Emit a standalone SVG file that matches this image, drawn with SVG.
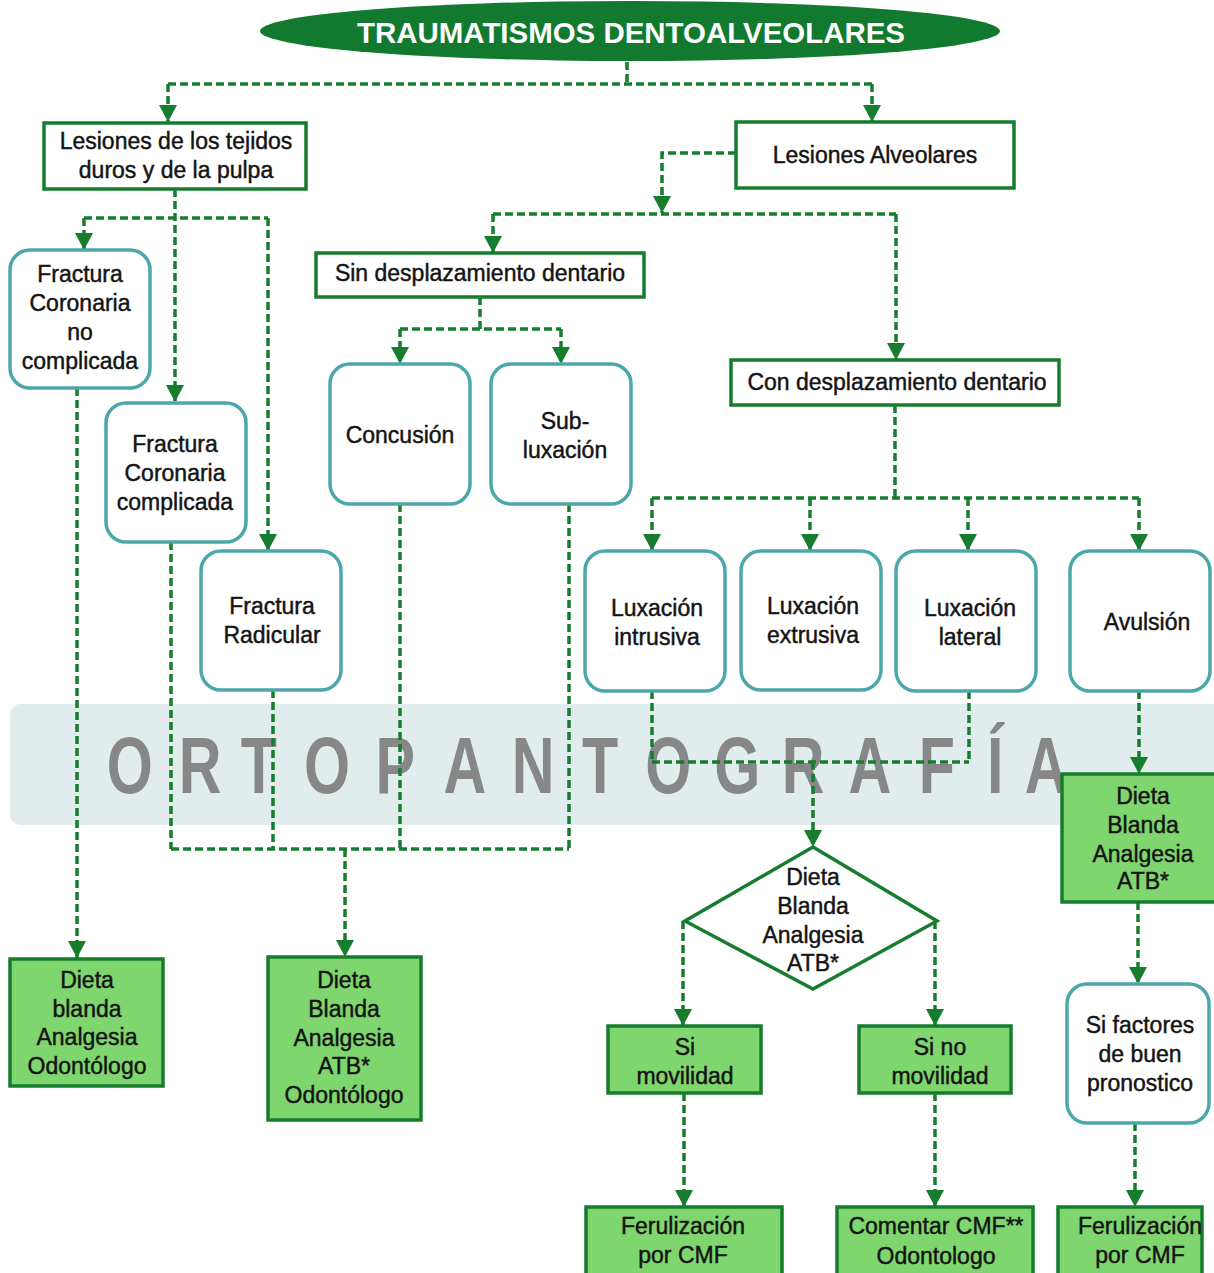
<svg xmlns="http://www.w3.org/2000/svg" width="1214" height="1273" viewBox="0 0 1214 1273">
<defs>
<marker id="ah" markerUnits="userSpaceOnUse" markerWidth="18" markerHeight="18" refX="17" refY="9" orient="auto">
<path d="M0,0 L17,9 L0,18 z" fill="#167c2e"/>
</marker>
<style>
.t{font-family:"Liberation Sans",Arial,sans-serif;font-size:23px;fill:#141414;stroke:#141414;stroke-width:0.45;text-anchor:middle}
.box{fill:#fff;stroke:#167c2e;stroke-width:3.5}
.gbox{fill:#80d66e;stroke:#167c2e;stroke-width:3.5}
.rbox{fill:#fff;stroke:#4ca7ab;stroke-width:3.5}
.c{fill:none;stroke:#167c2e;stroke-width:3.5;stroke-dasharray:8 4}
.a{marker-end:url(#ah)}
</style>
</defs>
<rect width="1214" height="1273" fill="#fff"/>
<g id="watermark">
<rect x="10" y="704" width="1220" height="121" rx="10" fill="#e1eded"/>
<g transform="scale(0.75 1)">
<text font-family="'Liberation Sans',Arial,sans-serif" font-weight="bold" font-size="79" fill="#878787" text-anchor="middle" x="173 267 345 436 527 620 711 800 891 983 1071 1160 1249 1327 1395" y="793">ORTOPANTOGRAFÍA</text>
</g>
</g>
<g id="connectors">
<path class="c" d="M627,62 V84"/>
<path class="c" d="M168,84 H872"/>
<path class="c a" d="M168,84 V122"/>
<path class="c a" d="M872,84 V122"/>
<path class="c a" d="M175,189 V402"/>
<path class="c" d="M84,218 H268"/>
<path class="c a" d="M84,218 V250"/>
<path class="c a" d="M268,218 V551"/>
<path class="c a" d="M736,153 H662 V213"/>
<path class="c" d="M493,214 H896"/>
<path class="c a" d="M493,214 V253"/>
<path class="c a" d="M896,214 V360"/>
<path class="c" d="M480,297 V329"/>
<path class="c" d="M400,329 H561"/>
<path class="c a" d="M400,329 V364"/>
<path class="c a" d="M561,329 V364"/>
<path class="c" d="M895,405 V498"/>
<path class="c" d="M652,498 H1139"/>
<path class="c a" d="M652,498 V551"/>
<path class="c a" d="M810,498 V551"/>
<path class="c a" d="M968,498 V551"/>
<path class="c a" d="M1139,498 V551"/>
<path class="c a" d="M77,388 V958"/>
<path class="c" d="M171,542 V849"/>
<path class="c" d="M171,849 H569"/>
<path class="c" d="M569,504 V849"/>
<path class="c" d="M273,690 V849"/>
<path class="c" d="M400,504 V849"/>
<path class="c a" d="M345,849 V957"/>
<path class="c" d="M652,691 V762"/>
<path class="c" d="M652,762 H969"/>
<path class="c" d="M969,691 V762"/>
<path class="c a" d="M813,762 V847"/>
<path class="c a" d="M1139,691 V774"/>
<path class="c a" d="M683,921 V1026"/>
<path class="c a" d="M935,921 V1026"/>
<path class="c a" d="M684,1093 V1207"/>
<path class="c a" d="M935,1093 V1207"/>
<path class="c a" d="M1138,902 V984"/>
<path class="c a" d="M1135,1123 V1207"/>
</g>
<g id="title">
<ellipse cx="630" cy="31" rx="370" ry="30" fill="#117a2f"/>
<text x="631" y="43" font-family="'Liberation Sans',Arial,sans-serif" font-weight="bold" font-size="30" fill="#fff" text-anchor="middle" textLength="548" lengthAdjust="spacingAndGlyphs">TRAUMATISMOS DENTOALVEOLARES</text>
</g>
<g id="n-tejidos">
<rect class="box" x="44" y="123" width="262" height="66"/>
<text class="t" x="176" y="149">Lesiones de los tejidos</text>
<text class="t" x="176" y="178">duros y de la pulpa</text>
</g>
<g id="n-alveolares">
<rect class="box" x="736" y="122" width="278" height="66"/>
<text class="t" x="875" y="163">Lesiones Alveolares</text>
</g>
<g id="n-sin">
<rect class="box" x="316" y="253" width="328" height="44"/>
<text class="t" x="480" y="281">Sin desplazamiento dentario</text>
</g>
<g id="n-con">
<rect class="box" x="731" y="360" width="328" height="45"/>
<text class="t" x="897" y="390">Con desplazamiento dentario</text>
</g>
<g id="n-fcnc">
<rect class="rbox" x="10" y="250" width="140" height="138" rx="20"/>
<text class="t" x="80" y="282">Fractura</text>
<text class="t" x="80" y="311">Coronaria</text>
<text class="t" x="80" y="340">no</text>
<text class="t" x="80" y="369">complicada</text>
</g>
<g id="n-fcc">
<rect class="rbox" x="106" y="403" width="140" height="139" rx="20"/>
<text class="t" x="175" y="452">Fractura</text>
<text class="t" x="175" y="481">Coronaria</text>
<text class="t" x="175" y="510">complicada</text>
</g>
<g id="n-fr">
<rect class="rbox" x="201" y="551" width="140" height="139" rx="20"/>
<text class="t" x="272" y="614">Fractura</text>
<text class="t" x="272" y="643">Radicular</text>
</g>
<g id="n-concusion">
<rect class="rbox" x="330" y="364" width="140" height="140" rx="20"/>
<text class="t" x="400" y="443">Concusión</text>
</g>
<g id="n-subluxacion">
<rect class="rbox" x="491" y="364" width="140" height="140" rx="20"/>
<text class="t" x="565" y="429">Sub-</text>
<text class="t" x="565" y="458">luxación</text>
</g>
<g id="n-intrusiva">
<rect class="rbox" x="585" y="551" width="140" height="140" rx="20"/>
<text class="t" x="657" y="616">Luxación</text>
<text class="t" x="657" y="645">intrusiva</text>
</g>
<g id="n-extrusiva">
<rect class="rbox" x="741" y="551" width="140" height="139" rx="20"/>
<text class="t" x="813" y="614">Luxación</text>
<text class="t" x="813" y="643">extrusiva</text>
</g>
<g id="n-lateral">
<rect class="rbox" x="896" y="551" width="140" height="140" rx="20"/>
<text class="t" x="970" y="616">Luxación</text>
<text class="t" x="970" y="645">lateral</text>
</g>
<g id="n-avulsion">
<rect class="rbox" x="1070" y="551" width="140" height="140" rx="20"/>
<text class="t" x="1147" y="630">Avulsión</text>
</g>
<g id="n-dieta1">
<rect class="gbox" x="10" y="959" width="153" height="127"/>
<text class="t" x="87" y="988">Dieta</text>
<text class="t" x="87" y="1017">blanda</text>
<text class="t" x="87" y="1045">Analgesia</text>
<text class="t" x="87" y="1074">Odontólogo</text>
</g>
<g id="n-dieta2">
<rect class="gbox" x="268" y="957" width="153" height="163"/>
<text class="t" x="344" y="988">Dieta</text>
<text class="t" x="344" y="1017">Blanda</text>
<text class="t" x="344" y="1046">Analgesia</text>
<text class="t" x="344" y="1074">ATB*</text>
<text class="t" x="344" y="1103">Odontólogo</text>
</g>
<g id="n-diamond">
<polygon points="813,847 937,921 813,989 685,921" fill="#fff" stroke="#167c2e" stroke-width="3.5"/>
<text class="t" x="813" y="885">Dieta</text>
<text class="t" x="813" y="914">Blanda</text>
<text class="t" x="813" y="943">Analgesia</text>
<text class="t" x="813" y="971">ATB*</text>
</g>
<g id="n-dieta3">
<rect class="gbox" x="1062" y="774" width="154" height="128"/>
<text class="t" x="1143" y="804">Dieta</text>
<text class="t" x="1143" y="833">Blanda</text>
<text class="t" x="1143" y="862">Analgesia</text>
<text class="t" x="1143" y="889">ATB*</text>
</g>
<g id="n-simov">
<rect class="gbox" x="608" y="1026" width="153" height="67"/>
<text class="t" x="685" y="1055">Si</text>
<text class="t" x="685" y="1084">movilidad</text>
</g>
<g id="n-sinomov">
<rect class="gbox" x="859" y="1026" width="152" height="67"/>
<text class="t" x="940" y="1055">Si no</text>
<text class="t" x="940" y="1084">movilidad</text>
</g>
<g id="n-factores">
<rect class="rbox" x="1067" y="984" width="142" height="139" rx="20"/>
<text class="t" x="1140" y="1033">Si factores</text>
<text class="t" x="1140" y="1062">de buen</text>
<text class="t" x="1140" y="1091">pronostico</text>
</g>
<g id="n-ferul1">
<rect class="gbox" x="586" y="1207" width="196" height="70"/>
<text class="t" x="683" y="1234">Ferulización</text>
<text class="t" x="683" y="1263">por CMF</text>
</g>
<g id="n-comentar">
<rect class="gbox" x="837" y="1207" width="196" height="70"/>
<text class="t" x="936" y="1234">Comentar CMF**</text>
<text class="t" x="936" y="1264">Odontologo</text>
</g>
<g id="n-ferul2">
<rect class="gbox" x="1058" y="1207" width="144" height="70"/>
<text class="t" x="1140" y="1234">Ferulización</text>
<text class="t" x="1140" y="1263">por CMF</text>
</g>
</svg>
